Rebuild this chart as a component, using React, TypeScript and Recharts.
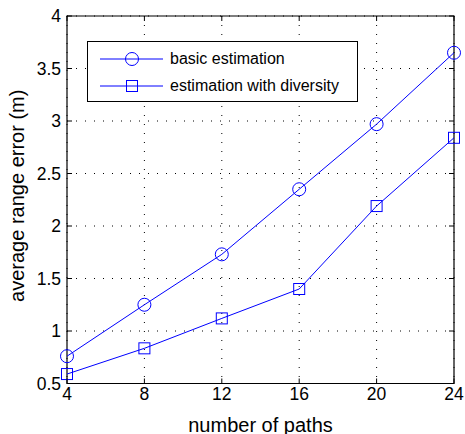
import { LineChart, Line, XAxis, YAxis, CartesianGrid, ReferenceArea } from "recharts";

const paths = [4, 8, 12, 16, 20, 24];
const basicError = [0.76, 1.25, 1.73, 2.35, 2.97, 3.65];
const diversityError = [0.59, 0.835, 1.12, 1.4, 2.19, 2.84];
const xTicks = [4, 8, 12, 16, 20, 24];
const yTicks = [0.5, 1, 1.5, 2, 2.5, 3, 3.5, 4];

const data = paths.map((p, i) => ({ paths: p, basic: basicError[i], diversity: diversityError[i] }));

const BLUE = "#0000ff";
const FONT = "'Liberation Sans', Arial, sans-serif";
const PLOT = { left: 67, right: 454, top: 16, bottom: 383.5 };
const TICK_LEN = 5;

function SquareDot(props: any) {
  const { cx, cy } = props;
  if (cx == null || cy == null) return null;
  return <rect x={cx - 5.5} y={cy - 5.5} width={11} height={11} fill="none" stroke={BLUE} strokeWidth={1} />;
}

function XTick(props: any) {
  const { x, y, payload } = props;
  return (
    <g>
      <line x1={x} x2={x} y1={PLOT.bottom} y2={PLOT.bottom - TICK_LEN} stroke="#000" />
      <line x1={x} x2={x} y1={PLOT.top} y2={PLOT.top + TICK_LEN} stroke="#000" />
      <text x={x} y={y + 14} textAnchor="middle" fontSize={17.5} fontFamily={FONT} fill="#000">
        {payload.value}
      </text>
    </g>
  );
}

function YTick(props: any) {
  const { x, y, payload } = props;
  return (
    <g>
      <line x1={PLOT.left} x2={PLOT.left + TICK_LEN} y1={y} y2={y} stroke="#000" />
      <line x1={PLOT.right} x2={PLOT.right - TICK_LEN} y1={y} y2={y} stroke="#000" />
      <text x={x} y={y + 6} textAnchor="end" fontSize={17.5} fontFamily={FONT} fill="#000">
        {payload.value}
      </text>
    </g>
  );
}

function LegendBox() {
  const rows = [
    { label: "basic estimation", marker: "circle" },
    { label: "estimation with diversity", marker: "square" },
  ];
  return (
    <div
      style={{
        position: "absolute",
        left: 87,
        top: 41,
        border: "1px solid #000",
        background: "#fff",
        width: 271,
        height: 61,
        boxSizing: "border-box",
        paddingTop: 4,
        fontFamily: FONT,
        fontSize: 16,
      }}
    >
      {rows.map((r) => (
        <div key={r.label} style={{ display: "flex", alignItems: "center", height: 26.5 }}>
          <svg width={80} height={16} style={{ marginLeft: 12 }}>
            <line x1={0} x2={63} y1={8} y2={8} stroke={BLUE} />
            {r.marker === "circle" ? (
              <circle cx={32} cy={8} r={6.5} fill="none" stroke={BLUE} />
            ) : (
              <rect x={26.5} y={2.5} width={11} height={11} fill="none" stroke={BLUE} />
            )}
          </svg>
          <span style={{ marginLeft: -10 }}>{r.label}</span>
        </div>
      ))}
    </div>
  );
}

function YTitle(props: any) {
  const { viewBox } = props;
  const cy = viewBox.y + viewBox.height / 2 - 4;
  return (
    <text
      x={17}
      y={cy}
      transform={`rotate(-90, 17, ${cy})`}
      textAnchor="middle"
      dominantBaseline="central"
      fontSize={20}
      fontFamily={FONT}
      fill="#000"
    >
      average range error (m)
    </text>
  );
}

export default function App() {
  return (
    <div style={{ position: "absolute", left: 0, top: 0, width: 465, height: 434, background: "#fff" }}>
      <LineChart width={465} height={434} data={data} margin={{ top: 16, right: 11, bottom: 20.5, left: 0 }}>
        <CartesianGrid stroke="#000" strokeDasharray="1 8" />
        <XAxis
          dataKey="paths"
          type="number"
          domain={[4, 24]}
          ticks={xTicks}
          height={30}
          tickLine={false}
          axisLine={false}
          tickSize={0}
          tick={<XTick />}
          label={{ value: "number of paths", position: "insideBottom", offset: -18, fontSize: 20, fontFamily: FONT, fill: "#000" }}
        />
        <YAxis
          type="number"
          domain={[0.5, 4]}
          ticks={yTicks}
          width={67}
          tickLine={false}
          axisLine={false}
          tickSize={0}
          tickMargin={6}
          tick={<YTick />}
          label={<YTitle />}
        />
        <ReferenceArea x1={4} x2={24} y1={0.5} y2={4} fill="none" stroke="#000" strokeWidth={1.2} ifOverflow="visible" />
        <Line
          dataKey="basic"
          stroke={BLUE}
          strokeWidth={1}
          dot={{ r: 6.5, fill: "none", stroke: BLUE, strokeWidth: 1 }}
          isAnimationActive={false}
        />
        <Line dataKey="diversity" stroke={BLUE} strokeWidth={1} dot={<SquareDot />} isAnimationActive={false} />
      </LineChart>
      <LegendBox />
    </div>
  );
}
